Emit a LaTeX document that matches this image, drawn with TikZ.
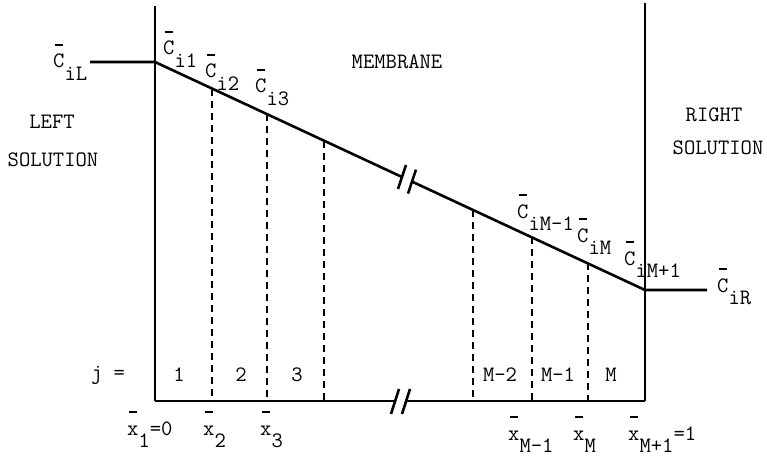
\documentclass[tikz,border=0pt]{standalone}
\usepackage{fontspec}
\newcommand{\ovbar}[1]{\ooalign{#1\cr\hidewidth\raisebox{1.0em}{\rule{0.38em}{0.09em}}\hidewidth\cr}}
\newcommand{\lowr}[1]{\raisebox{-0.58em}{#1}}
\tikzset{
  wall/.style={line width=2.6pt},
  cut/.style={line width=1.9pt, dash pattern=on 7pt off 5pt},
  lbl/.style={inner sep=0pt, anchor=base west},
  txt/.style={inner sep=0pt},
}
\begin{document}
\begin{tikzpicture}[x=1pt,y=-1pt,font=\ttfamily\fontsize{22}{26}\selectfont]
  \useasboundingbox (0,0) rectangle (767,457);
  % membrane walls
  \coordinate (lt) at (155,6);
  \coordinate (lb) at (155,401);
  \coordinate (rt) at (645,3);
  \coordinate (rb) at (645,401);
  \draw[wall] (lt) -- (lb);
  \draw[wall] (rt) -- (rb);
  % concentration profile
  \coordinate (cL) at (90,62);
  \coordinate (c1) at (155,62);
  \coordinate (cM) at (645,290);
  \coordinate (cR) at (707,290);
  \coordinate (b1) at (402,177);
  \coordinate (b2) at (412,181.6);
  \draw[wall] (cL) -- (c1) -- (b1);
  \draw[wall] (b2) -- (cM) -- (cR);
  \draw[wall] (b1) ++(-4,12) -- ++(8,-24);
  \draw[wall] (b2) ++(-4,12) -- ++(8,-24);
  % bottom line with break
  \coordinate (g1) at (395,401);
  \coordinate (g2) at (406,401);
  \draw[wall] (lb) -- (g1);
  \draw[wall] (g2) -- (rb);
  \draw[wall] (g1) ++(-4,13) -- ++(8,-25);
  \draw[wall] (g2) ++(-4,13) -- ++(8,-25);
  % grid points
  \foreach \x/\n in {212/2,267/3,324/4,473/m2,532/m1,588/m} {
    \coordinate (t\n) at (\x,{62+(\x-155)*0.4653});
    \coordinate (u\n) at (\x,401);
    \draw[cut] (t\n) -- (u\n);
  }
  % concentrations
  \node[lbl] (CiL) at (53,68) {\ovbar{C}\lowr{iL}};
  \node[lbl] (Ci1) at (163,55) {\ovbar{C}\lowr{i1}};
  \node[lbl] (Ci2) at (205,78) {\ovbar{C}\lowr{i2}};
  \node[lbl] (Ci3) at (255,93) {\ovbar{C}\lowr{i3}};
  \node[lbl] (CiMm) at (517,218) {\ovbar{C}\lowr{iM-1}};
  \node[lbl] (CiM) at (577,242) {\ovbar{C}\lowr{iM}};
  \node[lbl] (CiMp) at (624,265) {\ovbar{C}\lowr{iM+1}};
  \node[lbl] (CiR) at (717,292) {\ovbar{C}\lowr{iR}};
  % regions
  \node[txt] (mem) at (397,62) {MEMBRANE};
  \node[txt] (left) at (52,122) {LEFT};
  \node[txt] (lsol) at (53,160) {SOLUTION};
  \node[txt] (right) at (714,115) {RIGHT};
  \node[txt] (rsol) at (718,148) {SOLUTION};
  % element numbers
  \node[txt] (j) at (108,375) {j =};
  \node[txt] (e1) at (179,375) {1};
  \node[txt] (e2) at (241,375) {2};
  \node[txt] (e3) at (297,375) {3};
  \node[txt] (em2) at (500,375) {M-2};
  \node[txt] (em1) at (558,375) {M-1};
  \node[txt] (em) at (611,375) {M};
  % positions
  \node[lbl] (x1) at (127,435) {\ovbar{x}\lowr{1}=0};
  \node[lbl] (x2) at (203,435) {\ovbar{x}\lowr{2}};
  \node[lbl] (x3) at (260,435) {\ovbar{x}\lowr{3}};
  \node[lbl] (xm1) at (508,440) {\ovbar{x}\lowr{M-1}};
  \node[lbl] (xm) at (573,440) {\ovbar{x}\lowr{M}};
  \node[lbl] (xmp) at (628,440) {\ovbar{x}\lowr{M+1}=1};
\end{tikzpicture}
\end{document}
